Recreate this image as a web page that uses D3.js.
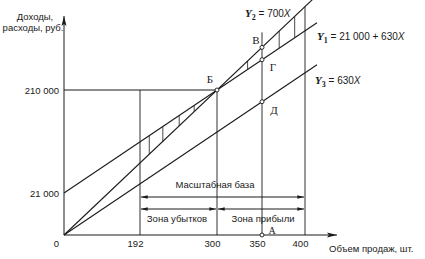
<!DOCTYPE html>
<html>
<head>
<meta charset="utf-8">
<script src="https://cdn.jsdelivr.net/npm/d3@7"></script>
<style>
    body { margin: 0; background: #fff; }
    text { font-family: "Liberation Sans", Arial, sans-serif; fill: #1a1a1a; }
    .pt-label, .y-name { font-family: "Liberation Serif", "Times New Roman", serif; }
</style>
</head>
<body>
<div id="chart"></div>
<script>
// break-even chart data (schematic, not drawn to scale)
const volumeTicks = [0, 192, 300, 350, 400]
const moneyTicks = [21000, 210000]
const fixedCost = 21000
const price = 700
const unitVarCost = 630
const minVolume = 192
const breakEven = 300
const planVolume = 350
const maxVolume = 400
const lossHatch = [205, 224, 247, 268]
const profitHatch = [334, 370, 388]
const lineNames = [
    { sub: "2", rest: " = 700", key: "revenue" },
    { sub: "1", rest: " = 21 000 + 630", key: "cost" },
    { sub: "3", rest: " = 630", key: "varCost" }
]

const width = 425, height = 259
const svg = d3.select("#chart").append("svg")
    .attr("width", width)
    .attr("height", height)

const ink = "#1a1a1a"

// the drawing is schematic, so both scales are piecewise over the labelled values
const x = d3.scaleLinear().domain(volumeTicks).range([64, 140, 217, 262, 305])
const y = d3.scaleLinear().domain([0, fixedCost, fixedCost + unitVarCost * breakEven]).range([235, 193, 90])

const f = {
    revenue: X => price * X,
    cost: X => fixedCost + unitVarCost * X
}
function screenY(key, px) {
    if (key === "varCost") return screenY("cost", px) + y(0) - y(fixedCost)
    const fn = f[key]
    const slope = (y(fn(breakEven)) - y(fn(0))) / (x(breakEven) - x(0))
    return y(fn(0)) + (px - x(0)) * slope
}

const fmt = d3.formatLocale({ decimal: ",", thousands: " ", grouping: [3], currency: ["", ""] }).format(",")

const defs = svg.append("defs")
defs.append("marker").attr("id", "arr").attr("viewBox", "0 -3 8 6")
    .attr("refX", 8).attr("refY", 0).attr("markerWidth", 7).attr("markerHeight", 5)
    .attr("orient", "auto-start-reverse")
    .append("path").attr("d", "M0,-2.2L8,0L0,2.2Z").attr("fill", ink)
defs.append("marker").attr("id", "axarr").attr("viewBox", "0 -3 10 6")
    .attr("refX", 10).attr("refY", 0).attr("markerWidth", 10).attr("markerHeight", 6)
    .attr("markerUnits", "userSpaceOnUse")
    .attr("orient", "auto")
    .append("path").attr("d", "M0,-2.5L10,0L0,2.5L2,0Z").attr("fill", ink)

// axes
svg.append("line")
    .attr("x1", x(0)).attr("y1", y(0)).attr("x2", x(maxVolume) + 32).attr("y2", y(0))
    .attr("stroke", ink).attr("marker-end", "url(#axarr)")
svg.append("line")
    .attr("x1", x(0)).attr("y1", y(0)).attr("x2", x(0)).attr("y2", 16)
    .attr("stroke", ink).attr("marker-end", "url(#axarr)")

const xAxis = svg.append("g")
    .attr("transform", `translate(0,${y(0)})`)
    .call(d3.axisBottom(x).tickValues(volumeTicks).tickSize(0).tickPadding(5).tickFormat(d3.format("d")))
xAxis.select(".domain").remove()
xAxis.selectAll("text").attr("font-size", 9.5).attr("fill", ink)
    .attr("font-family", "Liberation Sans, Arial, sans-serif")
    .attr("dx", d => d === 0 ? -8 : -5)

const yAxis = svg.append("g")
    .attr("transform", `translate(${x(0)},0)`)
    .call(d3.axisLeft(y).tickValues(moneyTicks).tickSize(0).tickPadding(5).tickFormat(fmt))
yAxis.select(".domain").remove()
yAxis.selectAll("text").attr("font-size", 9.5).attr("fill", ink)
    .attr("font-family", "Liberation Sans, Arial, sans-serif")

svg.append("text").attr("x", 35).attr("y", 20).attr("text-anchor", "middle")
    .attr("font-size", 9.5).text("Доходы,")
svg.append("text").attr("x", 33).attr("y", 31).attr("text-anchor", "middle")
    .attr("font-size", 9.5).text("расходы, руб.")
svg.append("text").attr("x", 329).attr("y", 252)
    .attr("font-size", 9.5).text("Объем продаж, шт.")

// guide lines
const bx = x(breakEven), by = y(f.cost(breakEven))
svg.append("line").attr("x1", x(0)).attr("y1", by).attr("x2", bx).attr("y2", by).attr("stroke", ink)
const guides = [
    { X: minVolume, top: by },
    { X: breakEven, top: by },
    { X: planVolume, top: screenY("revenue", x(planVolume)) - 15 },
    { X: maxVolume, top: screenY("revenue", x(maxVolume)) }
]
svg.selectAll(".guide").data(guides).enter().append("line")
    .attr("class", "guide")
    .attr("x1", d => x(d.X)).attr("x2", d => x(d.X))
    .attr("y1", y(0)).attr("y2", d => d.top)
    .attr("stroke", ink).attr("stroke-width", 0.9)

// hatching between revenue and cost
svg.selectAll(".hatch").data(lossHatch.concat(profitHatch)).enter().append("line")
    .attr("class", "hatch")
    .attr("x1", d => x(d)).attr("x2", d => x(d))
    .attr("y1", d => screenY("revenue", x(d)))
    .attr("y2", d => screenY("cost", x(d)))
    .attr("stroke", ink).attr("stroke-width", 0.8)

// the three lines
const xEnd = x(maxVolume) + 12
svg.selectAll(".ln").data(lineNames).enter().append("line")
    .attr("class", "ln")
    .attr("x1", x(0)).attr("y1", d => screenY(d.key, x(0)))
    .attr("x2", xEnd).attr("y2", d => screenY(d.key, xEnd))
    .attr("stroke", ink).attr("stroke-width", 1.1)

const namePos = [[245, 17], [317, 40], [315, 84]]
lineNames.forEach((d, i) => {
    const t = svg.append("text").attr("x", namePos[i][0]).attr("y", namePos[i][1]).attr("font-size", 10)
    t.append("tspan").attr("class", "y-name").attr("font-weight", "bold").attr("font-style", "italic")
        .attr("font-size", 11).text("Y")
    t.append("tspan").attr("class", "y-name").attr("font-weight", "bold").attr("font-size", 8)
        .attr("dy", 3).text(d.sub)
    t.append("tspan").attr("dy", -3).text(d.rest)
    t.append("tspan").attr("font-style", "italic").text("X")
})

// labelled points
const points = [
    { name: "Б", px: bx, py: by, dx: -7, dy: -7 },
    { name: "В", px: x(planVolume), py: screenY("revenue", x(planVolume)), dx: -6, dy: -3 },
    { name: "Г", px: x(planVolume), py: screenY("cost", x(planVolume)), dx: 11, dy: 11 },
    { name: "Д", px: x(planVolume), py: screenY("varCost", x(planVolume)), dx: 12, dy: 12 },
    { name: "А", px: x(planVolume), py: y(0), dx: 10, dy: -1 }
]
svg.selectAll(".pt").data(points).enter().append("circle")
    .attr("cx", d => d.px).attr("cy", d => d.py).attr("r", 2)
    .attr("fill", "#fff").attr("stroke", ink).attr("stroke-width", 0.9)
svg.selectAll(".pt-label").data(points).enter().append("text")
    .attr("class", "pt-label")
    .attr("x", d => d.px + d.dx).attr("y", d => d.py + d.dy)
    .attr("text-anchor", "middle").attr("font-size", d => d.name === "А" ? 10 : 11)
    .text(d => d.name)

// zone arrows
const zones = [
    { from: minVolume, to: maxVolume, row: 197, label: "Масштабная база", lx: 215, ly: 188 },
    { from: minVolume, to: breakEven, row: 209, label: "Зона убытков", lx: 177, ly: 222 },
    { from: breakEven, to: maxVolume, row: 209, label: "Зона прибыли", lx: 263, ly: 222 }
]
svg.selectAll(".zone").data(zones).enter().append("line")
    .attr("x1", d => x(d.from) + 1).attr("x2", d => x(d.to) - 1)
    .attr("y1", d => d.row).attr("y2", d => d.row)
    .attr("stroke", ink)
    .attr("marker-start", "url(#arr)").attr("marker-end", "url(#arr)")
svg.selectAll(".zone-label").data(zones).enter().append("text")
    .attr("x", d => d.lx).attr("y", d => d.ly)
    .attr("text-anchor", "middle").attr("font-size", 9.5)
    .text(d => d.label)
</script>
</body>
</html>
